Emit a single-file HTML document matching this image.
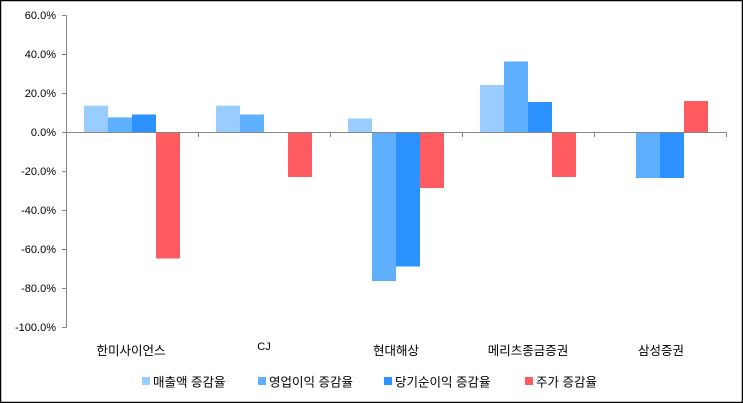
<!DOCTYPE html>
<html><head><meta charset="utf-8"><style>
html,body{margin:0;padding:0;background:#fff}
svg{display:block}
text{font-family:"Liberation Sans","Noto Sans CJK KR","NanumGothic",sans-serif;font-size:11px;fill:#000}
text.k{font-size:12.5px}
</style></head><body>
<svg width="743" height="403" viewBox="0 0 743 403" xmlns="http://www.w3.org/2000/svg">
<rect x="0.5" y="0.5" width="742" height="402" fill="#fff" stroke="#000" stroke-width="1.5"/>
<g text-anchor="end">
<text x="56" y="19">60.0%</text>
<text x="56" y="58">40.0%</text>
<text x="56" y="97">20.0%</text>
<text x="56" y="136">0.0%</text>
<text x="56" y="175">-20.0%</text>
<text x="56" y="214">-40.0%</text>
<text x="56" y="253">-60.0%</text>
<text x="56" y="292">-80.0%</text>
<text x="56" y="331">-100.0%</text>
</g>
<g id="bars">
<rect x="84" y="105.7" width="24" height="26.3" fill="#99ccff"/>
<rect x="108" y="117.4" width="24" height="14.6" fill="#5eb0ff"/>
<rect x="132" y="114.5" width="24" height="17.5" fill="#2b92ff"/>
<rect x="156" y="132" width="24" height="126.5" fill="#ff5b61"/>
<rect x="216" y="105.7" width="24" height="26.3" fill="#99ccff"/>
<rect x="240" y="114.5" width="24" height="17.5" fill="#5eb0ff"/>
<rect x="288" y="132" width="24" height="45" fill="#ff5b61"/>
<rect x="348" y="118.5" width="24" height="13.5" fill="#99ccff"/>
<rect x="372" y="132" width="24" height="149" fill="#5eb0ff"/>
<rect x="396" y="132" width="24" height="134.5" fill="#2b92ff"/>
<rect x="420" y="132" width="24" height="56" fill="#ff5b61"/>
<rect x="480" y="85" width="24" height="47" fill="#99ccff"/>
<rect x="504" y="61.5" width="24" height="70.5" fill="#5eb0ff"/>
<rect x="528" y="102" width="24" height="30" fill="#2b92ff"/>
<rect x="552" y="132" width="24" height="45" fill="#ff5b61"/>
<rect x="636" y="132" width="24" height="46" fill="#5eb0ff"/>
<rect x="660" y="132" width="24" height="46" fill="#2b92ff"/>
<rect x="684" y="101" width="24" height="31" fill="#ff5b61"/>
</g>
<g stroke="#868686" stroke-width="1" fill="none">
<path d="M66.5 15.5V327.5"/>
<path d="M62 15.5H66.5M62 54.5H66.5M62 93.5H66.5M62 132.5H66.5M62 171.5H66.5M62 210.5H66.5M62 249.5H66.5M62 288.5H66.5M62 327.5H66.5"/>
<path d="M66.5 132.5H726.5"/>
<path d="M198.5 132.5V137M330.5 132.5V137M462.5 132.5V137M594.5 132.5V137M726.5 132.5V137"/>
</g>
<g text-anchor="middle">
<text class="k" x="131" y="355">한미사이언스</text>
<text x="264" y="350">CJ</text>
<text class="k" x="396" y="355">현대해상</text>
<text class="k" x="528" y="355">메리츠종금증권</text>
<text class="k" x="661" y="355">삼성증권</text>
</g>
<rect x="142" y="377" width="8" height="8" fill="#99ccff"/>
<text class="k" x="153" y="386.5">매출액 증감율</text>
<rect x="258" y="377" width="8" height="8" fill="#5eb0ff"/>
<text class="k" x="269" y="386.5">영업이익 증감율</text>
<rect x="384" y="377" width="8" height="8" fill="#2b92ff"/>
<text class="k" x="395" y="386.5">당기순이익 증감율</text>
<rect x="525" y="377" width="8" height="8" fill="#ff5b61"/>
<text class="k" x="536" y="386.5">주가 증감율</text>
</svg>
</body></html>
